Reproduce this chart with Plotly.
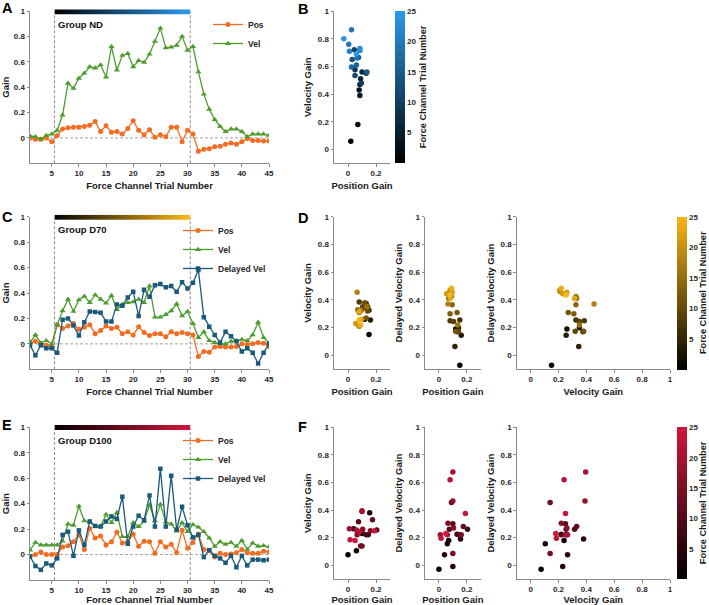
import plotly.graph_objects as go

W, H = 709, 605
FONT = "Liberation Sans, Arial, sans-serif"

# ---------------- data ----------------
trials = list(range(1, 46))                 # force channel trial number (whole session)
exposure_trials = list(range(6, 31))        # trials inside the exposure block
exposure_index = list(range(1, 26))         # force channel trial number within the block
tick_trials = [5, 10, 15, 20, 25, 30, 35, 40, 45]
gain_ticks = [0, 0.2, 0.4, 0.6, 0.8, 1]
cbar_ticks = [5, 10, 15, 20, 25]
block_edges = [5.5, 30.5]

nd_pos = [0.0, -0.01, -0.01, 0.0, -0.03, 0.02, 0.07, 0.08, 0.085, 0.085,
          0.09, 0.10, 0.13, 0.05, 0.095, 0.045, 0.05, 0.03, 0.075, 0.135,
          0.06, 0.025, 0.065, 0.005, 0.025, 0.01, 0.085, 0.085, -0.03, 0.06,
          0.03, -0.105, -0.09, -0.085, -0.07, -0.065, -0.05, -0.04, -0.05, -0.03,
          -0.005, -0.02, -0.02, -0.025, -0.025]
nd_vel = [0.015, 0.01, -0.01, 0.02, 0.03, 0.06, 0.18, 0.43, 0.39, 0.47,
          0.51, 0.56, 0.55, 0.575, 0.48, 0.72, 0.535, 0.65, 0.665, 0.56,
          0.61, 0.595, 0.66, 0.76, 0.865, 0.71, 0.715, 0.73, 0.80, 0.69,
          0.72, 0.52, 0.345, 0.225, 0.145, 0.09, 0.05, 0.07, 0.07, 0.05,
          0.01, 0.03, 0.03, 0.03, 0.02]

d70_pos = [0.01, 0.02, 0.005, -0.01, -0.02, 0.15, 0.12, 0.14, 0.16, 0.115,
           0.13, 0.15, 0.08, 0.105, 0.14, 0.12, 0.13, 0.08, 0.095, 0.07,
           0.135, 0.09, 0.065, 0.08, 0.08, 0.055, 0.095, 0.08, 0.09, 0.08,
           0.07, -0.10, -0.06, -0.065, -0.025, -0.02, -0.025, -0.025, -0.02, 0.0,
           -0.005, 0.0, 0.01, 0.005, -0.02]
d70_vel = [0.01, 0.07, 0.005, 0.025, 0.0, 0.15, 0.26, 0.35, 0.255, 0.345,
           0.375, 0.325, 0.385, 0.35, 0.32, 0.38, 0.27, 0.31, 0.325, 0.33,
           0.35, 0.325, 0.455, 0.21, 0.21, 0.23, 0.26, 0.315, 0.22, 0.255,
           0.16, 0.05, 0.095, 0.025, 0.01, 0.0, 0.0, 0.02, 0.025, 0.035,
           0.025, 0.07, 0.17, 0.05, 0.005]
d70_dvel = [-0.01, -0.09, -0.01, -0.035, -0.035, -0.07, 0.19, 0.20, 0.145, 0.065,
            0.17, 0.255, 0.25, 0.245, 0.175, 0.175, 0.31, 0.30, 0.365, 0.41,
            0.22, 0.425, 0.37, 0.46, 0.47, 0.445, 0.455, 0.41, 0.485, 0.435,
            0.48, 0.58, 0.21, 0.135, 0.07, 0.01, 0.095, 0.06, 0.02, -0.06,
            -0.035, -0.07, -0.155, -0.07, 0.0]

d100_pos = [-0.015, 0.0, 0.02, 0.0, 0.0, 0.0, 0.06, 0.07, 0.10, 0.155,
            0.04, 0.205, 0.13, 0.145, 0.075, 0.10, 0.175, 0.09, 0.10, 0.16,
            0.065, 0.105, 0.10, 0.01, 0.10, 0.06, 0.08, 0.015, 0.19, 0.05,
            0.095, 0.16, 0.04, 0.03, -0.02, 0.01, 0.0, 0.005, 0.015, 0.04,
            0.015, 0.01, 0.01, 0.025, 0.02]
d100_vel = [0.035, 0.095, 0.075, 0.075, 0.075, 0.075, 0.105, 0.24, 0.23, 0.38,
            0.265, 0.255, 0.22, 0.22, 0.315, 0.25, 0.33, 0.14, 0.14, 0.25,
            0.22, 0.26, 0.39, 0.265, 0.395, 0.255, 0.24, 0.185, 0.25, 0.18,
            0.235, 0.215, 0.18, 0.13, 0.065, 0.10, 0.08, 0.095, 0.065, 0.11,
            0.04, 0.09, 0.065, 0.07, 0.06]
d100_dvel = [-0.015, -0.09, -0.12, -0.07, -0.085, -0.03, 0.155, 0.18, -0.01, 0.19,
             0.075, 0.26, 0.225, 0.22, 0.26, 0.30, 0.28, 0.455, 0.085, 0.22,
             0.305, 0.27, 0.465, 0.22, 0.675, 0.22, 0.62, 0.195, 0.375, 0.23,
             0.135, 0.155, -0.02, 0.035, -0.01, -0.03, -0.065, -0.01, -0.10, -0.01,
             -0.085, -0.04, -0.04, -0.045, -0.04]

# ---------------- styles ----------------
C_POS = "#F36C21"
C_VEL = "#4E9C2D"
C_DVEL = "#1B5A7A"
SCALE_ND = [[0, "#000000"], [1, "#2B98EC"]]
SCALE_D70 = [[0, "#000000"], [1, "#F7B516"]]
SCALE_D100 = [[0, "#000000"], [1, "#D0173C"]]
AX_COL = "#8a8a8a"
TXT = "#262626"


def dx(p0, p1):
    return [p0 / W, p1 / W]


def dy(top, bottom):
    return [1 - bottom / H, 1 - top / H]


# panel pixel boxes (left, right), (top, bottom)
LINE_X = (30, 269)
SC_X = [(334, 390), (425, 480.7), (516.7, 670)]
ROWS = [(11, 163.3), (216.7, 369.3), (427.3, 580)]
SC_ROWS = [(11, 163.3), (216.7, 369.3), (427.3, 579)]
BAR_Y = [(9.3, 14.7), (214.7, 220), (425, 430.3)]
CB_X = [395, 676.5, 676.5]
CB_TITLE_X = [423, 703, 703]
X_STANDOFF = [4, 4, 3]


def px_trial(t):
    return LINE_X[0] + (t - 1) * (LINE_X[1] - LINE_X[0]) / 44


fig = go.Figure()
layout = dict()

tickfont = dict(family=FONT, size=8, color=TXT, weight="bold")
titlefont = dict(family=FONT, size=9.5, color="#1a1a1a", weight="bold")
DASH = "3px,2px"


def axis(domain, rng, tickvals, anchor, title=None, standoff=4):
    d = dict(domain=domain, range=rng, tickvals=tickvals, anchor=anchor,
             showline=True, linecolor=AX_COL, linewidth=1, ticks="outside",
             ticklen=2.5, tickcolor=AX_COL, showgrid=False, zeroline=False,
             tickfont=tickfont, fixedrange=True)
    if title:
        d["title"] = dict(text=title, font=titlefont, standoff=standoff)
    return d


groups = [
    ("ND", nd_pos, nd_vel, None, SCALE_ND),
    ("D70", d70_pos, d70_vel, d70_dvel, SCALE_D70),
    ("D100", d100_pos, d100_vel, d100_dvel, SCALE_D100),
]
legend_pos = [(208, 10), (178, 216), (178, 426)]
ax_n = 1
bar_axes = [11, 12, 13]

for gi, (gname, pos, vel, dvel, cscale) in enumerate(groups):
    top, bot = ROWS[gi]
    # ---- line panel ----
    xn = ax_n
    xk = "x" if xn == 1 else f"x{xn}"
    yk = "y" if xn == 1 else f"y{xn}"
    layout["xaxis" if xn == 1 else f"xaxis{xn}"] = axis(
        dx(*LINE_X), [1, 45], tick_trials, yk, "Force Channel Trial Number", X_STANDOFF[gi])
    layout["yaxis" if xn == 1 else f"yaxis{xn}"] = axis(
        dy(top, bot), [-0.2, 1], gain_ticks, xk, "Gain")
    lg = "legend" if gi == 0 else f"legend{gi + 1}"
    # dashed reference lines
    for e in block_edges:
        fig.add_shape(type="line", xref=xk, yref=yk, x0=e, x1=e, y0=-0.2, y1=1,
                      line=dict(color="#8c8c8c", width=1, dash=DASH), layer="below")
    fig.add_shape(type="line", xref=xk, yref=yk, x0=1, x1=45, y0=0, y1=0,
                  line=dict(color="#8c8c8c", width=0.8, dash=DASH), layer="below")
    fig.add_trace(go.Scatter(x=trials, y=pos, name="Pos", mode="lines+markers",
                             line=dict(color=C_POS, width=1.3),
                             marker=dict(symbol="circle", size=5, color=C_POS),
                             xaxis=xk, yaxis=yk, legend=lg))
    fig.add_trace(go.Scatter(x=trials, y=vel, name="Vel", mode="lines+markers",
                             line=dict(color=C_VEL, width=1.3),
                             marker=dict(symbol="triangle-up", size=5.5, color=C_VEL),
                             xaxis=xk, yaxis=yk, legend=lg))
    if dvel is not None:
        fig.add_trace(go.Scatter(x=trials, y=dvel, name="Delayed Vel", mode="lines+markers",
                                 line=dict(color=C_DVEL, width=1.3),
                                 marker=dict(symbol="square", size=4.5, color=C_DVEL),
                                 xaxis=xk, yaxis=yk, legend=lg))
    lx, ly = legend_pos[gi]
    layout[lg] = dict(x=lx / W, y=1 - ly / H, xanchor="left", yanchor="top",
                      bgcolor="rgba(0,0,0,0)", font=dict(family=FONT, size=8.5, color=TXT, weight="bold"),
                      itemwidth=30, tracegroupgap=0)
    # gradient block bar
    bn = bar_axes[gi]
    bt, bb = BAR_Y[gi]
    layout[f"xaxis{bn}"] = dict(domain=dx(px_trial(block_edges[0]), px_trial(block_edges[1])),
                                range=[block_edges[0], block_edges[1]], visible=False,
                                anchor=f"y{bn}", fixedrange=True)
    layout[f"yaxis{bn}"] = dict(domain=dy(bt, bb), range=[-0.5, 0.5], visible=False,
                                anchor=f"x{bn}", fixedrange=True)
    fig.add_trace(go.Heatmap(z=[exposure_index], x=exposure_trials, y=[0],
                             colorscale=cscale, zmin=0, zmax=25, zsmooth="best",
                             showscale=False, hoverinfo="skip",
                             xaxis=f"x{bn}", yaxis=f"y{bn}"))
    fig.add_annotation(text=f"Group {gname}", xref="paper", yref="paper",
                       x=56 / W, y=1 - (bt + 15) / H, xanchor="left", yanchor="middle",
                       showarrow=False, font=dict(family=FONT, size=9.5, color="#111", weight="bold"))
    ax_n += 1

    # ---- scatter panels ----
    ex_pos = [pos[t - 1] for t in exposure_trials]
    ex_vel = [vel[t - 1] for t in exposure_trials]
    pairs = [(ex_pos, ex_vel, "Position Gain", "Velocity Gain")]
    if dvel is not None:
        ex_dvel = [dvel[t - 1] for t in exposure_trials]
        pairs.append((ex_pos, ex_dvel, "Position Gain", "Delayed Velocity Gain"))
        pairs.append((ex_vel, ex_dvel, "Velocity Gain", "Delayed Velocity Gain"))
    stop, sbot = SC_ROWS[gi]
    for si, (xs, ys, xt, yt) in enumerate(pairs):
        n = ax_n
        xr = [-0.1, 0.3] if si < 2 else [-0.1, 1]
        xtv = [0, 0.2] if si < 2 else [0, 0.2, 0.4, 0.6, 0.8, 1]
        layout[f"xaxis{n}"] = axis(dx(*SC_X[si]), xr, xtv, f"y{n}", xt, X_STANDOFF[gi])
        layout[f"yaxis{n}"] = axis(dy(stop, sbot), [-0.1, 1], gain_ticks, f"x{n}", yt)
        last = si == len(pairs) - 1
        marker = dict(size=5.5, color=exposure_index, colorscale=cscale, cmin=0, cmax=25,
                      showscale=last, line=dict(width=0))
        if last:
            marker["colorbar"] = dict(
                x=CB_X[gi] / W, xanchor="left", y=1 - stop / H, yanchor="top",
                len=(sbot - stop) / H, lenmode="fraction", thickness=9.5,
                thicknessmode="pixels", outlinewidth=0, xpad=0, ypad=0,
                tickvals=cbar_ticks, ticks="",
                tickfont=dict(family=FONT, size=8, color=TXT, weight="bold"))
        fig.add_trace(go.Scatter(x=xs, y=ys, mode="markers", marker=marker,
                                 showlegend=False, xaxis=f"x{n}", yaxis=f"y{n}"))
        ax_n += 1
    # colour bar title
    fig.add_annotation(text="Force Channel Trial Number", xref="paper", yref="paper",
                       x=CB_TITLE_X[gi] / W, y=1 - (stop + sbot) / 2 / H,
                       xanchor="center", yanchor="middle", textangle=-90, showarrow=False,
                       font=dict(family=FONT, size=9.2, color="#1a1a1a", weight="bold"))

# panel letters
letters = [("A", 0, -2), ("B", 296, -1), ("C", 0, 207), ("D", 296, 208), ("E", 0, 415), ("F", 296, 417)]
for t, x, y in letters:
    fig.add_annotation(text=t, xref="paper", yref="paper", x=x / W, y=1 - y / H,
                       xanchor="left", yanchor="top", showarrow=False,
                       font=dict(family=FONT, size=14.5, color="#000", weight="bold"))

fig.update_layout(**layout)
fig.update_layout(width=W, height=H, margin=dict(l=0, r=0, t=0, b=0, autoexpand=False),
                  paper_bgcolor="white", plot_bgcolor="white", showlegend=True,
                  font=dict(family=FONT))
fig.write_html("out.html", config={"displayModeBar": False},
               post_script="document.body.style.margin='0px';")
